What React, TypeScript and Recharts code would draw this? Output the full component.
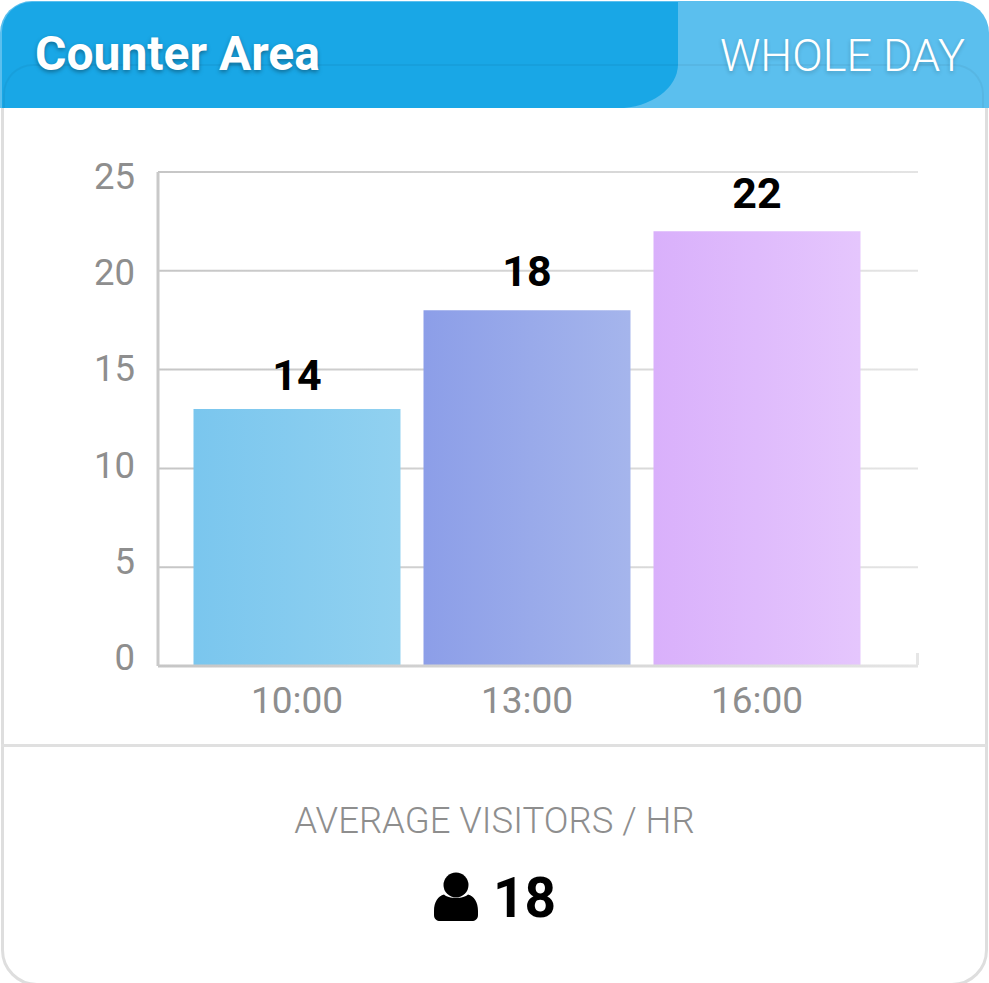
import React from 'react';
import { BarChart, Bar, XAxis, YAxis, CartesianGrid, Cell, LabelList } from 'recharts';

const hours = ['10:00', '13:00', '16:00'];
const barValues = [13, 18, 22];
const barLabels = ['14', '18', '22'];
const yTicks = [0, 5, 10, 15, 20, 25];
const barStops = [
    ['#7ac6ee', '#91d1f0'],
    ['#8c9ee8', '#a5b5ec'],
    ['#d9b0fb', '#e5c6fd'],
];
const labelLift = [19, 24, 23];

const chartData = hours.map((hour, i) => ({ hour, visitors: barValues[i] }));

const font = 'Roboto, sans-serif';

const YTick = ({ y, payload }: any) => (
    // tick text sits on a slightly tighter spacing than the grid in the original
    <text x={135} y={536 + (y - 545) * 0.974 + 13} textAnchor="end" fontFamily={font} fontSize={36.5} fill="#8e8e8e">
        {payload.value}
    </text>
);

const BarLabel = ({ x, y, width, index }: any) => (
    <text x={x + width / 2} y={y - labelLift[index]} textAnchor="middle" fontFamily={font} fontSize={43} fontWeight={700} fill="#000">
        {barLabels[index]}
    </text>
);

const App: React.FC = () => {
    return (
        <div style={{ position: 'absolute', left: 0, top: 0, width: 989, height: 983, overflow: 'hidden', background: '#fff', fontFamily: font }}>
            <div style={{ position: 'absolute', left: 1, top: 1, width: 981, height: 979, border: '3px solid #dedede', borderRadius: 36 }} />

            <div style={{ position: 'absolute', left: 0, top: 1, width: 989, height: 107, background: '#5bbfee', borderRadius: '32px 32px 0 0' }} />
            <div style={{ position: 'absolute', left: 2, top: 2, width: 676, height: 106, background: '#19a7e6', borderTopLeftRadius: 30, borderBottomRightRadius: '60px 44px' }} />
            <div style={{ position: 'absolute', left: 3, top: 64, width: 981, height: 60, border: '2px solid rgba(0,0,0,0.045)', borderBottom: 'none', borderRadius: '30px 30px 0 0', boxSizing: 'border-box', clipPath: 'inset(0 0 16px 0)' }} />
            <div style={{ position: 'absolute', left: 35, top: 26, fontSize: 48, fontWeight: 700, lineHeight: '56px', color: '#fff', textShadow: '0 2px 4px rgba(0,0,0,0.35)' }}>Counter Area</div>
            <div style={{ position: 'absolute', right: 24, top: 28, fontSize: 45, fontWeight: 300, lineHeight: '56px', color: '#fff', textShadow: '0 2px 4px rgba(0,0,0,0.2)' }}>WHOLE DAY</div>

            <div style={{ position: 'absolute', left: 0, top: 120 }}>
                <BarChart width={989} height={640} data={chartData} margin={{ top: 52, right: 71, bottom: 34, left: 58 }} barCategoryGap={11.5}>
                    <defs>
                        <linearGradient id="gridFade" gradientUnits="userSpaceOnUse" x1="158" y1="0" x2="918" y2="0">
                            <stop offset="0%" stopColor="#c6c6c6" />
                            <stop offset="100%" stopColor="#e4e4e4" />
                        </linearGradient>
                        {barStops.map((stops, i) => (
                            <linearGradient key={i} id={`barFill${i}`} x1="0" y1="0" x2="1" y2="0">
                                <stop offset="0%" stopColor={stops[0]} />
                                <stop offset="100%" stopColor={stops[1]} />
                            </linearGradient>
                        ))}
                    </defs>
                    <CartesianGrid vertical={false} stroke="url(#gridFade)" strokeWidth={2} />
                    <XAxis
                        dataKey="hour"
                        height={60}
                        padding={{ left: 24, right: 46 }}
                        axisLine={{ stroke: 'url(#gridFade)', strokeWidth: 3 }}
                        tickLine={false}
                        tick={{ fontFamily: font, fontSize: 37, fill: '#8e8e8e' }}
                        tickMargin={15}
                    />
                    <YAxis
                        width={100}
                        domain={[0, 25]}
                        ticks={yTicks}
                        interval={0}
                        axisLine={{ stroke: '#c9c9c9', strokeWidth: 3 }}
                        tickLine={false}
                        tick={<YTick />}
                    />
                    <Bar dataKey="visitors" isAnimationActive={false}>
                        {chartData.map((_, i) => (
                            <Cell key={i} fill={`url(#barFill${i})`} />
                        ))}
                        <LabelList dataKey="visitors" content={<BarLabel />} />
                    </Bar>
                </BarChart>
            </div>
            <div style={{ position: 'absolute', left: 916, top: 653, width: 3, height: 12, background: '#e6e6e6' }} />

            <div style={{ position: 'absolute', left: 1, top: 744, width: 986, height: 3, background: '#e0e0e0' }} />
            <div style={{ position: 'absolute', left: 0, width: 989, top: 798, textAlign: 'center', fontSize: 36.5, fontWeight: 300, lineHeight: '46px', color: '#8e8e8e' }}>AVERAGE VISITORS / HR</div>
            <svg style={{ position: 'absolute', left: 433, top: 872 }} width={46} height={50} viewBox="0 0 46 50">
                <circle cx="23" cy="13" r="12.5" fill="#000" />
                <path d="M11 22.5 C15 27 31 27 35 22.5 C41 24 45 30 45 39 L45 43 C45 47 42 49 39 49 L7 49 C4 49 1 47 1 43 L1 39 C1 30 5 24 11 22.5 Z" fill="#000" />
            </svg>
            <div style={{ position: 'absolute', left: 493, top: 864, fontSize: 55, fontWeight: 700, lineHeight: '68px', color: '#000' }}>18</div>
        </div>
    );
};

export default App;
